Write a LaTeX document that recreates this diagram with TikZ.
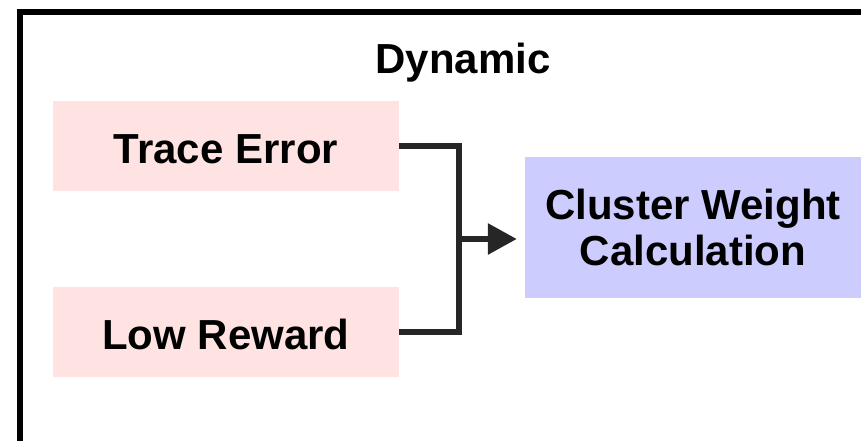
\documentclass[tikz,border=0pt]{standalone}
\usepackage{fontspec}
\setmainfont{Liberation Sans}
\usetikzlibrary{arrows.meta}
\definecolor{errpink}{HTML}{FFE3E3}
\definecolor{calcblue}{HTML}{CCCCFF}
\definecolor{wire}{HTML}{262626}
\tikzset{
  lbl/.style={font=\bfseries\fontsize{42}{46}\selectfont, align=center, inner sep=0pt},
  signal/.style={lbl, fill=errpink, minimum width=346pt, minimum height=90pt, text height=35pt, text depth=0pt},
  calcbox/.style={lbl, fill=calcblue, minimum width=336pt, minimum height=141pt},
  wireline/.style={draw=wire, line width=6pt},
}
\begin{document}
\begin{tikzpicture}[x=1pt, y=1pt]
\useasboundingbox (0,0) rectangle (861,440);
\clip (0,0) rectangle (861,440);
% outer frame, running past the right and bottom edges
\draw[line width=6pt] (20,-20) rectangle (890,428);
\node[lbl] (title) at (463,377) {Dynamic};
\node[signal] (trace) at (226,294) {Trace Error};
\node[signal] (low) at (226,108) {Low Reward};
\node[calcbox] (calc) at (693,212.5) {Cluster Weight\\Calculation};
\coordinate (join) at (459,201);
\draw[wireline] (trace.east) -| (join) |- (low.east);
\draw[wireline, -{Triangle[length=29pt, width=30pt]}] (join) -- ([xshift=-8pt]join -| calc.west);
\end{tikzpicture}
\end{document}
